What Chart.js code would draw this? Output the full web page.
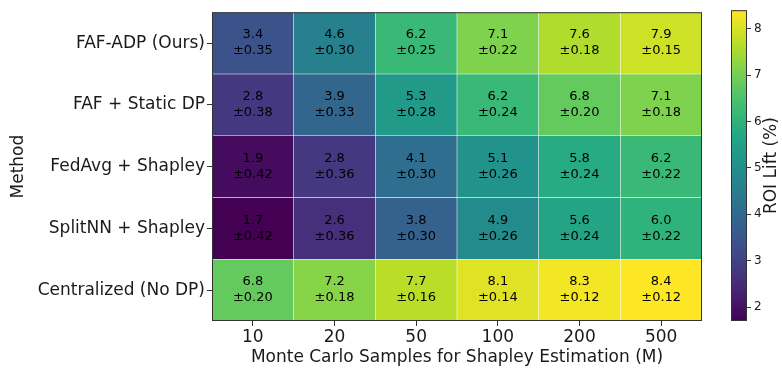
<!DOCTYPE html>
<html>
<head>
<meta charset="utf-8">
<script src="https://cdn.jsdelivr.net/npm/chart.js@4/dist/chart.umd.min.js"></script>
<style>
  body { margin: 0; background: #fff; }
  #wrap { position: relative; width: 782px; height: 372px; }
  #heat { position: absolute; left: 0; top: 0; }
  #bar { position: absolute; left: 720px; top: 0; }
</style>
</head>
<body>
<div id="wrap">
  <canvas id="heat" width="720" height="372"></canvas>
  <canvas id="bar" width="62" height="372"></canvas>
</div>
<script>
const methods = ['FAF-ADP (Ours)', 'FAF + Static DP', 'FedAvg + Shapley', 'SplitNN + Shapley', 'Centralized (No DP)']
const samples = ['10', '20', '50', '100', '200', '500']

// ROI lift (%) per method, one value per sample count
const meanFafAdp = [3.4, 4.6, 6.2, 7.1, 7.6, 7.9]
const meanFafStatic = [2.8, 3.9, 5.3, 6.2, 6.8, 7.1]
const meanFedAvg = [1.9, 2.8, 4.1, 5.1, 5.8, 6.2]
const meanSplitNN = [1.7, 2.6, 3.8, 4.9, 5.6, 6.0]
const meanCentral = [6.8, 7.2, 7.7, 8.1, 8.3, 8.4]

const stdFafAdp = [0.35, 0.30, 0.25, 0.22, 0.18, 0.15]
const stdFafStatic = [0.38, 0.33, 0.28, 0.24, 0.20, 0.18]
const stdFedAvg = [0.42, 0.36, 0.30, 0.26, 0.24, 0.22]
const stdSplitNN = [0.42, 0.36, 0.30, 0.26, 0.24, 0.22]
const stdCentral = [0.20, 0.18, 0.16, 0.14, 0.12, 0.12]

const colorbarTicks = [2, 3, 4, 5, 6, 7, 8]

const means = [meanFafAdp, meanFafStatic, meanFedAvg, meanSplitNN, meanCentral]
const stds = [stdFafAdp, stdFafStatic, stdFedAvg, stdSplitNN, stdCentral]

const vmin = Math.min(...means.flat())
const vmax = Math.max(...means.flat())

const viridis = ['#440154', '#482475', '#414487', '#355f8d', '#2a788e', '#21918c',
  '#22a884', '#44bf70', '#7ad151', '#bddf26', '#fde725']

const hexRgb = (h) => [1, 3, 5].map((i) => parseInt(h.slice(i, i + 2), 16))

const cmap = (v) => {
  let t = (v - vmin) / (vmax - vmin)
  t = Math.max(0, Math.min(1, t)) * (viridis.length - 1)
  const i = Math.min(Math.floor(t), viridis.length - 2)
  const f = t - i
  const a = hexRgb(viridis[i])
  const b = hexRgb(viridis[i + 1])
  const c = a.map((x, k) => Math.round(x + (b[k] - x) * f))
  return `rgb(${c[0]},${c[1]},${c[2]})`
}

const FONT = 'DejaVu Sans'
const INK = '#1a1a1a'

const datasets = methods.map((m, r) => ({
  label: m,
  data: means[r].map(() => [r - 0.5, r + 0.5]),
  backgroundColor: means[r].map(cmap),
  borderColor: 'rgba(255,255,255,0.12)',
  borderWidth: 0.6,
  borderSkipped: false,
  barPercentage: 1,
  categoryPercentage: 1,
  grouped: false,
}))

const cellText = {
  id: 'cellText',
  afterDatasetsDraw(chart) {
    const ctx = chart.ctx
    ctx.save()
    ctx.fillStyle = '#000'
    ctx.font = `13px "${FONT}"`
    ctx.textAlign = 'center'
    ctx.textBaseline = 'middle'
    chart.data.datasets.forEach((ds, r) => {
      chart.getDatasetMeta(r).data.forEach((el, c) => {
        const cy = (el.y + el.base) / 2
        ctx.fillText(means[r][c].toFixed(1), el.x, cy - 8)
        ctx.fillText('±' + stds[r][c].toFixed(2), el.x, cy + 8)
      })
    })
    const a = chart.chartArea
    ctx.strokeStyle = '#333'
    ctx.lineWidth = 1
    ctx.strokeRect(a.left + 0.5, a.top + 0.5, a.right - a.left - 1, a.bottom - a.top - 1)
    ctx.restore()
  },
}

new Chart(document.getElementById('heat'), {
  type: 'bar',
  data: { labels: samples, datasets: datasets },
  options: {
    responsive: false,
    animation: false,
    layout: { padding: { top: 5, right: 18, left: 0, bottom: 0 } },
    plugins: { legend: { display: false }, tooltip: { enabled: false } },
    scales: {
      x: {
        type: 'category',
        grid: { drawOnChartArea: false, offset: false, tickLength: 5, color: '#333' },
        border: { display: false },
        ticks: { font: { family: FONT, size: 17 }, color: INK, padding: 1 },
        title: {
          display: true,
          text: 'Monte Carlo Samples for Shapley Estimation (M)',
          font: { family: FONT, size: 17 },
          color: INK,
          padding: { top: 0, bottom: 4 },
        },
        afterFit: (s) => { s.height = 51 },
      },
      y: {
        type: 'linear',
        min: -0.5,
        max: 4.5,
        reverse: true,
        afterBuildTicks: (s) => { s.ticks = methods.map((m, i) => ({ value: i })) },
        grid: { drawOnChartArea: false, tickLength: 5, color: '#333' },
        border: { display: false },
        ticks: {
          font: { family: FONT, size: 17 },
          color: INK,
          padding: 2,
          callback: (v) => methods[v],
        },
        title: {
          display: true,
          text: 'Method',
          font: { family: FONT, size: 17 },
          color: INK,
          padding: { top: 8, bottom: 0 },
        },
        afterFit: (s) => { s.width = 212 },
      },
    },
  },
  plugins: [cellText],
})

const colorbarFrame = {
  id: 'colorbarFrame',
  afterDatasetsDraw(chart) {
    const ctx = chart.ctx
    const a = chart.chartArea
    ctx.save()
    ctx.strokeStyle = '#333'
    ctx.lineWidth = 1
    ctx.strokeRect(a.left + 0.5, a.top + 0.5, a.right - a.left - 1, a.bottom - a.top - 1)
    ctx.translate(52, (a.top + a.bottom) / 2)
    ctx.rotate(-Math.PI / 2)
    ctx.fillStyle = INK
    ctx.font = `17px "${FONT}"`
    ctx.textAlign = 'center'
    ctx.textBaseline = 'middle'
    ctx.fillText('ROI Lift (%)', 0, 0)
    ctx.restore()
  },
}

new Chart(document.getElementById('bar'), {
  type: 'bar',
  data: {
    labels: [''],
    datasets: [{
      data: [[vmin, vmax]],
      backgroundColor: (c) => {
        const a = c.chart.chartArea
        if (!a) return viridis[5]
        const g = c.chart.ctx.createLinearGradient(0, a.bottom, 0, a.top)
        viridis.forEach((col, i) => g.addColorStop(i / (viridis.length - 1), col))
        return g
      },
      borderWidth: 0,
      barPercentage: 1,
      categoryPercentage: 1,
    }],
  },
  options: {
    responsive: false,
    animation: false,
    layout: { padding: { top: 5, right: 0, left: 11, bottom: 51 } },
    plugins: { legend: { display: false }, tooltip: { enabled: false } },
    scales: {
      x: { display: false },
      y: {
        position: 'right',
        min: vmin,
        max: vmax,
        afterBuildTicks: (s) => { s.ticks = colorbarTicks.map((v) => ({ value: v })) },
        grid: { drawOnChartArea: false, tickLength: 4, color: '#333' },
        border: { display: false },
        ticks: { font: { family: FONT, size: 12 }, color: INK, padding: 3 },
        afterFit: (s) => { s.width = 35 },
      },
    },
  },
  plugins: [colorbarFrame],
})
</script>
</body>
</html>
